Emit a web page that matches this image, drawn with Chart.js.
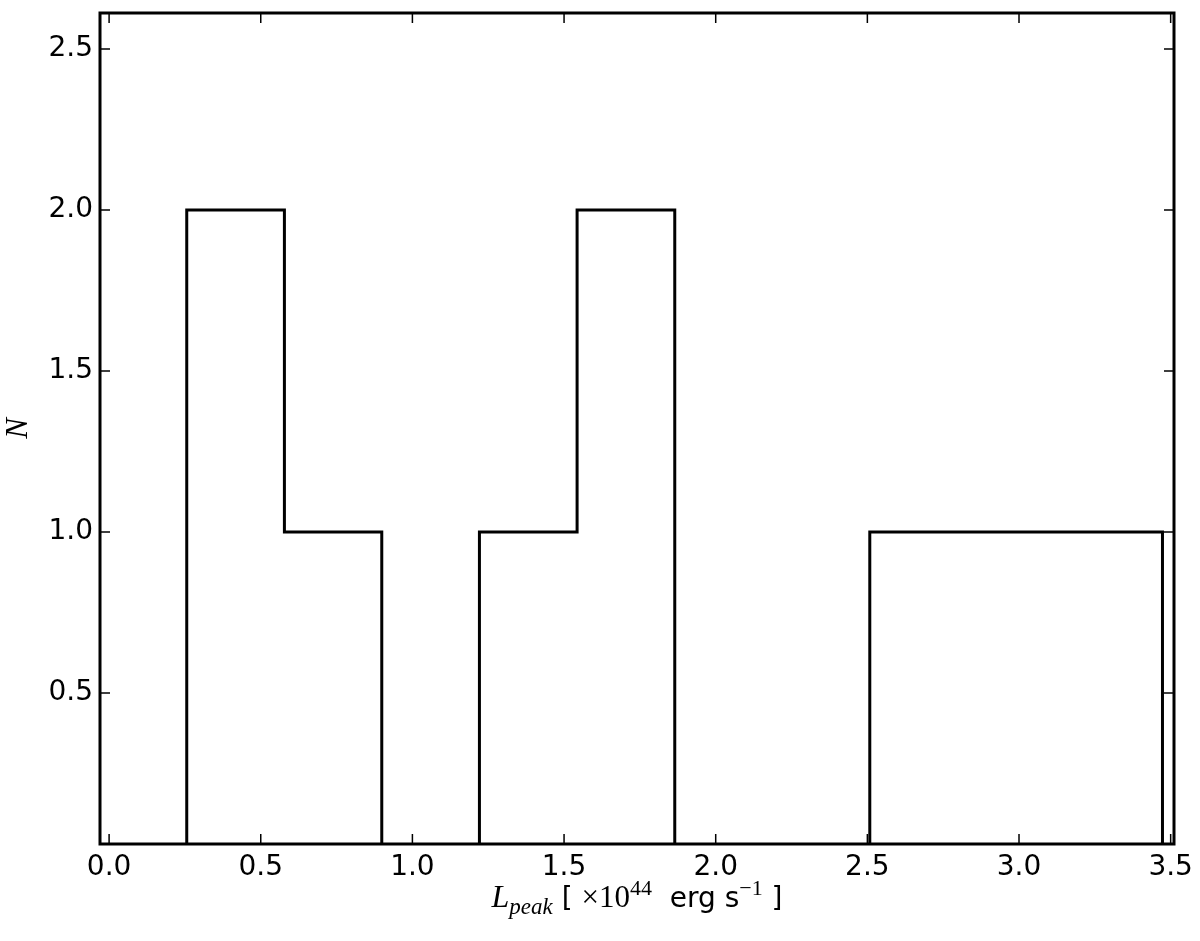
<!DOCTYPE html>
<html>
<head>
<meta charset="utf-8">
<script src="https://cdn.jsdelivr.net/npm/chart.js@4/dist/chart.umd.min.js"></script>
<style>
  html, body { margin: 0; padding: 0; background: #ffffff; }
  #wrap { width: 1200px; height: 941px; }
</style>
</head>
<body>
<div id="wrap"><canvas id="hist" width="1200" height="941"></canvas></div>
<script>
// histogram bin edges (L_peak, 1e44 erg/s) and counts per bin
const binEdges = [0.256, 0.578, 0.899, 1.221, 1.543, 1.865, 2.186, 2.508, 2.830, 3.151, 3.473];
const binCounts = [2, 1, 0, 1, 2, 0, 0, 1, 1, 1];

// axis limits and tick labels
const xRange = [-0.03, 3.511];
const yRange = [0.031, 2.612];
const xTickLabels = ['0.0', '0.5', '1.0', '1.5', '2.0', '2.5', '3.0', '3.5'];
const yTickLabels = ['0.5', '1.0', '1.5', '2.0', '2.5'];

// outline of a step histogram: up at first edge, across each bin, down at last edge
const stepPoints = [{ x: binEdges[0], y: 0 }];
binCounts.forEach((c, i) => stepPoints.push({ x: binEdges[i], y: c }));
stepPoints.push({ x: binEdges[binEdges.length - 1], y: 0 });

const TICK_FONT = { family: 'DejaVu Sans', size: 28 };

// box round the plot, inward ticks on all four sides, axis labels
const framePlugin = {
    id: 'frame',
    afterDatasetsDraw(chart) {
        const { ctx, chartArea: a, scales } = chart;
        ctx.save();
        ctx.strokeStyle = '#000';
        ctx.lineWidth = 1.5;
        const len = 10;
        scales.x.ticks.forEach(t => {
            const px = scales.x.getPixelForValue(t.value);
            ctx.beginPath();
            ctx.moveTo(px, a.bottom); ctx.lineTo(px, a.bottom - len);
            ctx.moveTo(px, a.top); ctx.lineTo(px, a.top + len);
            ctx.stroke();
        });
        scales.y.ticks.forEach(t => {
            const py = scales.y.getPixelForValue(t.value);
            ctx.beginPath();
            ctx.moveTo(a.left, py); ctx.lineTo(a.left + len, py);
            ctx.moveTo(a.right, py); ctx.lineTo(a.right - len, py);
            ctx.stroke();
        });
        ctx.lineWidth = 3;
        ctx.strokeRect(a.left, a.top, a.right - a.left, a.bottom - a.top);

        ctx.fillStyle = '#000';
        // y label
        ctx.save();
        ctx.translate(19, (a.top + a.bottom) / 2);
        ctx.rotate(-Math.PI / 2);
        ctx.font = 'italic 31px "Liberation Serif"';
        ctx.textAlign = 'center';
        ctx.textBaseline = 'middle';
        ctx.fillText('N', 0, 0);
        ctx.restore();

        // x label, built from pieces for sub/superscripts
        const pieces = [
            { t: 'L', f: 'italic 32px "Liberation Serif"', dy: 0 },
            { t: 'peak', f: 'italic 23px "Liberation Serif"', dy: 7 },
            { t: ' [ ', f: '28px "DejaVu Sans"', dy: 0 },
            { t: '\u00d710', f: '31px "Liberation Serif"', dy: 0 },
            { t: '44', f: '22px "Liberation Serif"', dy: -12 },
            { t: '  erg s', f: '28px "DejaVu Sans"', dy: 0 },
            { t: '\u22121', f: '22px "Liberation Serif"', dy: -12 },
            { t: ' ]', f: '28px "DejaVu Sans"', dy: 0 }
        ];
        ctx.textAlign = 'left';
        ctx.textBaseline = 'alphabetic';
        let total = 0;
        pieces.forEach(p => { ctx.font = p.f; p.w = ctx.measureText(p.t).width; total += p.w; });
        let x = (a.left + a.right) / 2 - total / 2;
        const base = 907;
        pieces.forEach(p => {
            ctx.font = p.f;
            ctx.fillText(p.t, x, base + p.dy);
            x += p.w;
        });
        ctx.restore();
    }
};

new Chart(document.getElementById('hist'), {
    type: 'line',
    data: {
        datasets: [{
            data: stepPoints,
            stepped: true,
            borderColor: '#000000',
            borderWidth: 3,
            fill: false,
            pointRadius: 0,
            clip: 0
        }]
    },
    options: {
        responsive: false,
        animation: false,
        devicePixelRatio: 1,
        layout: { padding: { top: 13, right: 26, left: 0, bottom: 0 } },
        plugins: {
            legend: { display: false },
            tooltip: { enabled: false }
        },
        scales: {
            x: {
                type: 'linear',
                min: xRange[0],
                max: xRange[1],
                grid: { display: false, drawTicks: false },
                border: { display: false },
                afterFit: s => { s.height = 97; s.paddingLeft = 0; s.paddingRight = 0; },
                ticks: {
                    stepSize: 0.5,
                    includeBounds: false,
                    autoSkip: false,
                    maxRotation: 0,
                    padding: 7,
                    color: '#000',
                    font: TICK_FONT,
                    callback: (v, i) => xTickLabels[i]
                }
            },
            y: {
                type: 'linear',
                min: yRange[0],
                max: yRange[1],
                grid: { display: false, drawTicks: false },
                border: { display: false },
                afterFit: s => { s.width = 100; s.paddingTop = 0; s.paddingBottom = 0; },
                ticks: {
                    stepSize: 0.5,
                    includeBounds: false,
                    autoSkip: false,
                    padding: 7,
                    color: '#000',
                    font: TICK_FONT,
                    callback: (v, i) => yTickLabels[i]
                }
            }
        }
    },
    plugins: [framePlugin]
});
</script>
</body>
</html>
